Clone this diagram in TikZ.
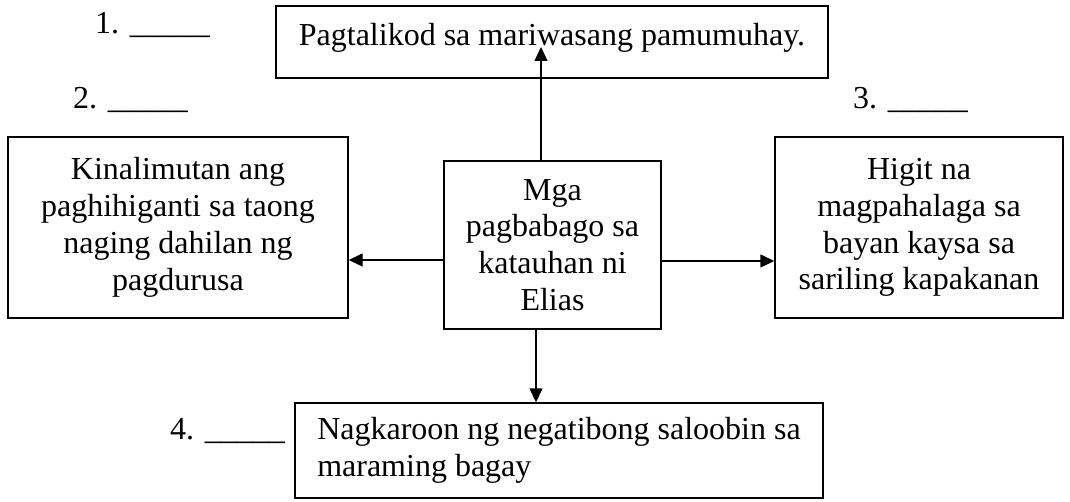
\documentclass[tikz,border=0pt]{standalone}
\usepackage{fontspec}
\setmainfont{Liberation Serif}
\usetikzlibrary{arrows.meta}
\begin{document}
\begin{tikzpicture}[x=1pt,y=-1pt,
  txt/.style={font=\fontsize{32}{36.8}\selectfont},
  box/.style={txt, draw, line width=1.4pt, inner sep=0pt, align=center},
  lbl/.style={txt, inner sep=0pt, anchor=base west},
  arr/.style={line width=1.4pt, -{Triangle[length=14pt,width=13pt]}}]
\useasboundingbox (0,0) rectangle (1070,502);
% boxes
\node[box, minimum width=552pt, minimum height=72pt, text depth=14.5pt] (top) at (552,42) {Pagtalikod sa mariwasang pamumuhay.};
\node[box, minimum width=340pt, minimum height=181pt] (left) at (178,227.5) {Kinalimutan ang\\paghihiganti sa taong\\naging dahilan ng\\pagdurusa};
\node[box, minimum width=217pt, minimum height=168pt] (center) at (552.5,245) {Mga\\pagbabago sa\\katauhan ni\\Elias};
\node[box, minimum width=288pt, minimum height=181pt] (right) at (919,227.5) {Higit na\\magpahalaga sa\\bayan kaysa sa\\sariling kapakanan};
\node[box, align=left, minimum width=528pt, minimum height=95pt] (bottom) at (559,450.5) {Nagkaroon ng negatibong saloobin sa\\maraming bagay};
% labels
\node[lbl] (l1) at (95,34) {1. \textunderscore\textunderscore\textunderscore\textunderscore\textunderscore};
\node[lbl] (l2) at (73,109) {2. \textunderscore\textunderscore\textunderscore\textunderscore\textunderscore};
\node[lbl] (l3) at (853,109) {3. \textunderscore\textunderscore\textunderscore\textunderscore\textunderscore};
\node[lbl] (l4) at (170,439) {4. \textunderscore\textunderscore\textunderscore\textunderscore\textunderscore};
% connectors
\coordinate (uptip) at (541,47);
\draw[arr] (center.north -| uptip) -- (uptip);
\draw[arr] (center.west |- 0,260) -- (left.east |- 0,260);
\draw[arr] (center.east |- 0,261) -- (right.west |- 0,261);
\draw[arr] (center.south -| 536,0) -- (bottom.north -| 536,0);
\end{tikzpicture}
\end{document}
